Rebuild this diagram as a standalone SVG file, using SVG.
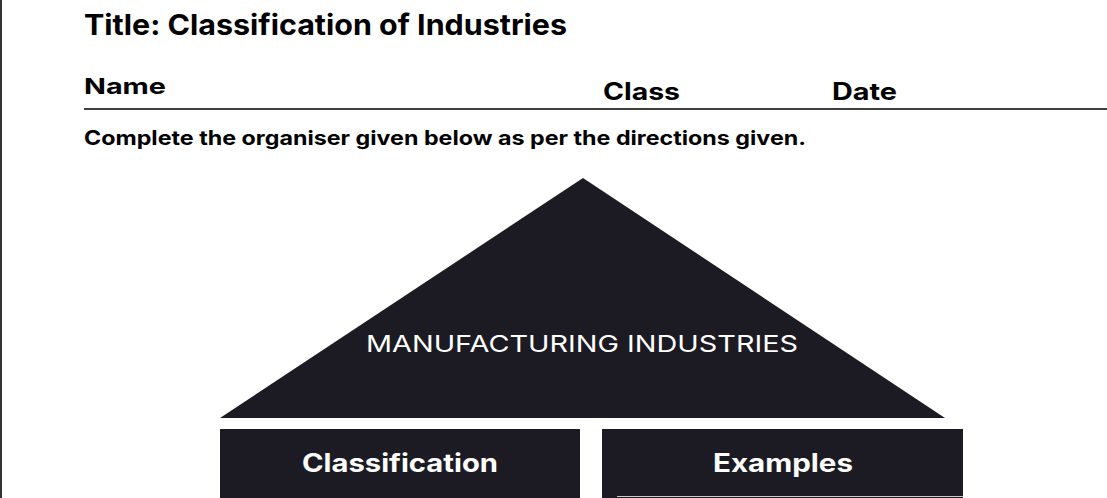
<svg xmlns="http://www.w3.org/2000/svg" width="1107" height="498" viewBox="0 0 1107 498">
<style>
.h{font-family:Inter,"Liberation Sans",sans-serif;font-weight:700;fill:#000}
.dark{fill:#1c1b23}
.w{font-family:Inter,"Liberation Sans",sans-serif;fill:#fff}
</style>
<rect width="1107" height="498" fill="#fff"/>
<line x1="1" y1="0" x2="1" y2="498" stroke="#333" stroke-width="2"/>
<g id="header">
<text class="h" x="84" y="35" font-size="29" textLength="483" lengthAdjust="spacingAndGlyphs">Title: Classification of Industries</text>
<text class="h" x="84" y="94" font-size="22" textLength="82" lengthAdjust="spacingAndGlyphs">Name</text>
<text class="h" x="603" y="100" font-size="24" textLength="77" lengthAdjust="spacingAndGlyphs">Class</text>
<text class="h" x="832" y="100" font-size="24" textLength="65" lengthAdjust="spacingAndGlyphs">Date</text>
<line x1="84" y1="109" x2="1107" y2="109" stroke="#000" stroke-width="1.5"/>
<text class="h" x="84" y="145" font-size="20" textLength="722" lengthAdjust="spacingAndGlyphs">Complete the organiser given below as per the directions given.</text>
</g>
<g id="triangle">
<polygon class="dark" points="583,178 945,418 220,418"/>
<text class="w" x="366" y="352" font-size="23" textLength="432" lengthAdjust="spacingAndGlyphs">MANUFACTURING INDUSTRIES</text>
</g>
<g id="classification">
<rect class="dark" x="220" y="429" width="360" height="69"/>
<text class="w" x="302" y="472" font-size="25" font-weight="700" textLength="196" lengthAdjust="spacingAndGlyphs">Classification</text>
</g>
<g id="examples">
<rect class="dark" x="602" y="429" width="361" height="69"/>
<text class="w" x="713" y="472" font-size="25" font-weight="700" textLength="140" lengthAdjust="spacingAndGlyphs">Examples</text>
<line x1="617" y1="496.5" x2="963" y2="496.5" stroke="#ccc" stroke-width="1"/>
</g>
<g id="connectors"/>
</svg>
